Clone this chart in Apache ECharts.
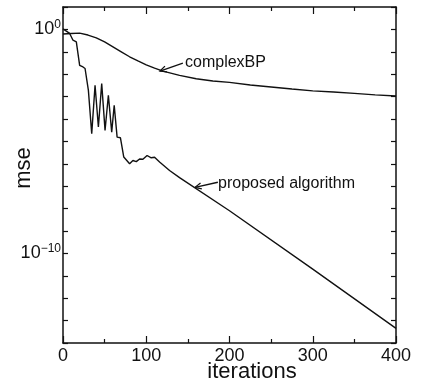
<!DOCTYPE html>
<html>
<head>
<meta charset="utf-8">
<script src="https://cdn.jsdelivr.net/npm/echarts@6/dist/echarts.min.js"></script>
<style>
  html, body { margin: 0; padding: 0; background: #fff; }
  #main { width: 422px; height: 384px; }
</style>
</head>
<body>
<div id="main"></div>
<script>
// complexBP curve
const iterBP = [0, 10, 20, 30, 40, 50, 60, 70, 80, 90, 100, 110, 120, 140, 160, 180, 200, 225, 250, 275, 300, 325, 350, 375, 400];
const mseBP = [0.62, 0.66, 0.68, 0.56, 0.42, 0.275, 0.166, 0.1, 0.06, 0.039, 0.026, 0.0186, 0.0138, 8.9e-3, 6.3e-3, 5.0e-3, 4.3e-3, 3.3e-3, 2.7e-3, 2.2e-3, 1.8e-3, 1.6e-3, 1.4e-3, 1.2e-3, 1.07e-3];

// proposed algorithm curve
const iterPA = [0, 2, 8, 12, 16, 20, 24, 26.5, 30.5, 34.5, 38.5, 42.5, 46.5, 50.5, 54.5, 58.5, 61.5, 65, 69, 73, 80, 84, 88, 92, 96, 101, 106, 110, 116, 128, 140, 200, 300, 400];
const msePA = [1.05, 0.93, 0.66, 0.33, 0.28, 0.025, 0.021, 0.018, 1.9e-3, 2.2e-5, 3.2e-3, 4.4e-5, 3.8e-3, 3.1e-5, 1.15e-3, 2.6e-5, 4.1e-4, 1.55e-5, 1.45e-5, 2.0e-6, 1.0e-6, 1.4e-6, 1.25e-6, 1.65e-6, 1.6e-6, 2.35e-6, 1.85e-6, 1.95e-6, 1.2e-6, 5e-7, 2.4e-7, 8e-9, 2e-11, 4.5e-14];

// labelled decades on the y axis
const yLabelExp = [0, -10];

const font = 'Liberation Sans, Arial, Helvetica, sans-serif';
const ink = '#111';

const chart = echarts.init(document.getElementById('main'), null, { renderer: 'canvas' });

const xCommon = {
    type: 'value', min: 0, max: 400, interval: 100,
    axisLine: { show: true, onZero: false, lineStyle: { color: ink, width: 1.5 } },
    axisTick: { show: true, inside: true, length: 7, lineStyle: { color: ink, width: 1.2 } },
    minorTick: { show: true, splitNumber: 2, length: 4, lineStyle: { color: ink, width: 1.2 } },
    splitLine: { show: false }
};
const yCommon = {
    type: 'log', logBase: 10, min: 1e-14, max: 10, interval: 1,
    axisLine: { show: true, onZero: false, lineStyle: { color: ink, width: 1.5 } },
    axisTick: { show: true, inside: true, length: 5, interval: 0, lineStyle: { color: ink, width: 1.2 } },
    splitLine: { show: false }
};

const toXY = (xs, ys) => xs.map((x, i) => [x, ys[i]]);

chart.setOption({
    animation: false,
    backgroundColor: '#fff',
    grid: { left: 63, right: 26, top: 7, bottom: 41 },
    xAxis: [
        Object.assign({}, xCommon, {
            position: 'bottom',
            axisLabel: { color: ink, fontSize: 18, fontFamily: font, margin: 4 }
        }),
        Object.assign({}, xCommon, { position: 'top', axisLabel: { show: false } })
    ],
    yAxis: [
        Object.assign({}, yCommon, {
            position: 'left',
            axisLabel: {
                margin: 2, interval: 0,
                formatter: function (v) {
                    const e = Math.round(Math.log10(v));
                    if (yLabelExp.indexOf(e) < 0) return '';
                    return '{b|10}{s|' + (e < 0 ? '\u2212' + (-e) : e) + '}';
                },
                rich: {
                    b: { fontSize: 18, fontFamily: font, color: ink, lineHeight: 22 },
                    s: { fontSize: 12, fontFamily: font, color: ink, lineHeight: 22, verticalAlign: 'top', padding: [0, 0, 8, 0] }
                }
            }
        }),
        Object.assign({}, yCommon, { position: 'right', axisLabel: { show: false } })
    ],
    series: [
        {
            name: 'complexBP', type: 'line', showSymbol: false,
            data: toXY(iterBP, mseBP),
            lineStyle: { color: ink, width: 1.4 }
        },
        {
            name: 'proposed algorithm', type: 'line', showSymbol: false,
            data: toXY(iterPA, msePA),
            lineStyle: { color: ink, width: 1.4 }
        }
    ]
});

// annotation arrows, tip anchored on the curves via the axes
function arrow(tipData, tailData) {
    const tip = chart.convertToPixel({ xAxisIndex: 0, yAxisIndex: 0 }, tipData);
    const tail = chart.convertToPixel({ xAxisIndex: 0, yAxisIndex: 0 }, tailData);
    const a = Math.atan2(tail[1] - tip[1], tail[0] - tip[0]);
    const h = 7, sp = 0.45;
    return [
        { type: 'line', shape: { x1: tail[0], y1: tail[1], x2: tip[0], y2: tip[1] }, style: { stroke: ink, lineWidth: 1.3 } },
        {
            type: 'polyline',
            shape: { points: [
                [tip[0] + h * Math.cos(a + sp), tip[1] + h * Math.sin(a + sp)],
                [tip[0], tip[1]],
                [tip[0] + h * Math.cos(a - sp), tip[1] + h * Math.sin(a - sp)]
            ] },
            style: { stroke: ink, lineWidth: 1.3, fill: null }
        }
    ];
}

const els = [].concat(
    arrow([116.5, 0.0138], [144, 0.031]),
    arrow([158.6, 8.9e-8], [186, 1.5e-7]),
    [
        { type: 'text', x: 185, y: 63, style: { text: 'complexBP', font: '16px ' + font, fill: ink, textVerticalAlign: 'middle' } },
        { type: 'text', x: 218, y: 184, style: { text: 'proposed algorithm', font: '16px ' + font, fill: ink, textVerticalAlign: 'middle' } },
        { type: 'text', x: 252, y: 372, style: { text: 'iterations', font: '22px ' + font, fill: ink, textAlign: 'center', textVerticalAlign: 'middle' } },
        { type: 'text', x: 24, y: 168, rotation: Math.PI / 2, style: { text: 'mse', font: '22px ' + font, fill: ink, textAlign: 'center', textVerticalAlign: 'middle' } }
    ]
);
chart.setOption({ graphic: els });
</script>
</body>
</html>
